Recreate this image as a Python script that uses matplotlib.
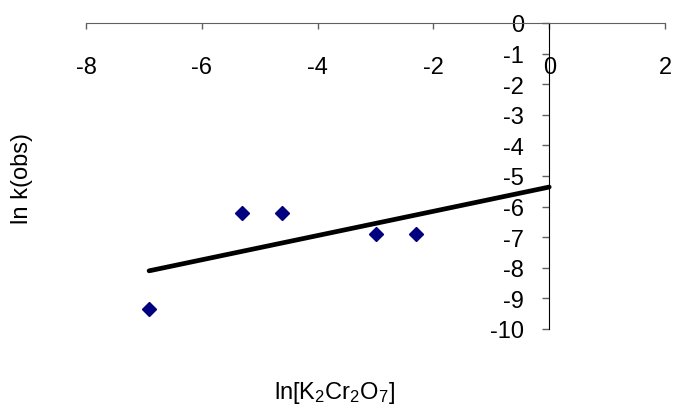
import numpy as np
import matplotlib
matplotlib.use("Agg")
import matplotlib.pyplot as plt

plt.rcParams['font.family'] = ['Liberation Sans', 'DejaVu Sans']
plt.rcParams['mathtext.fontset'] = 'custom'
plt.rcParams['mathtext.rm'] = 'Liberation Sans'
plt.rcParams['mathtext.it'] = 'Liberation Sans'

# ln of dichromate concentration vs ln k(obs)
ln_conc = [-6.91, -5.30, -4.61, -3.00, -2.30]
ln_k = [-9.35, -6.21, -6.21, -6.90, -6.90]

x_ticks = [-8, -6, -4, -2, 0, 2]
y_ticks = [0, -1, -2, -3, -4, -5, -6, -7, -8, -9, -10]

fig = plt.figure(figsize=(6.75, 4.1), dpi=100)
ax = fig.add_axes([86/675, 1 - 330/410, 579/675, 306/410])

# linear trendline, forecast forward to x = 0
slope, icpt = np.polyfit(ln_conc, ln_k, 1)
fit_x = np.array([min(ln_conc), 0.0])
ax.plot(fit_x, slope * fit_x + icpt, color='black', lw=3.4, solid_capstyle='round', zorder=2)

ax.plot(ln_conc, ln_k, linestyle='none', marker='D', ms=7.6,
        color='#000080', mec='#000080', zorder=3)

ax.set_xlim(-8, 2)
ax.set_ylim(-10, 0)

ax.spines['left'].set_position(('data', 0))
ax.spines['bottom'].set_position(('data', 0))
ax.spines['top'].set_visible(False)
ax.spines['right'].set_visible(False)
ax.spines['bottom'].set_color('#606060')
ax.spines['left'].set_color('black')

ax.set_xticks(x_ticks)
ax.set_yticks(y_ticks)
ax.set_xticklabels([str(t) for t in x_ticks])
ax.set_yticklabels([str(t) for t in y_ticks])
ax.tick_params(axis='x', direction='out', length=4.5, width=1, color='#606060',
               pad=19, labelsize=17)
ax.tick_params(axis='y', direction='out', length=5, width=1, color='#606060',
               pad=13, labelsize=17)

fig.text(22/675, 1 - 179/410, 'ln k(obs)', rotation=90, ha='center', va='center', fontsize=17)
fig.text(335/675, 1 - 393/410, r'ln[K$_2$Cr$_2$O$_7$]', ha='center', va='center', fontsize=17)

fig.savefig('out.png', dpi=100)
